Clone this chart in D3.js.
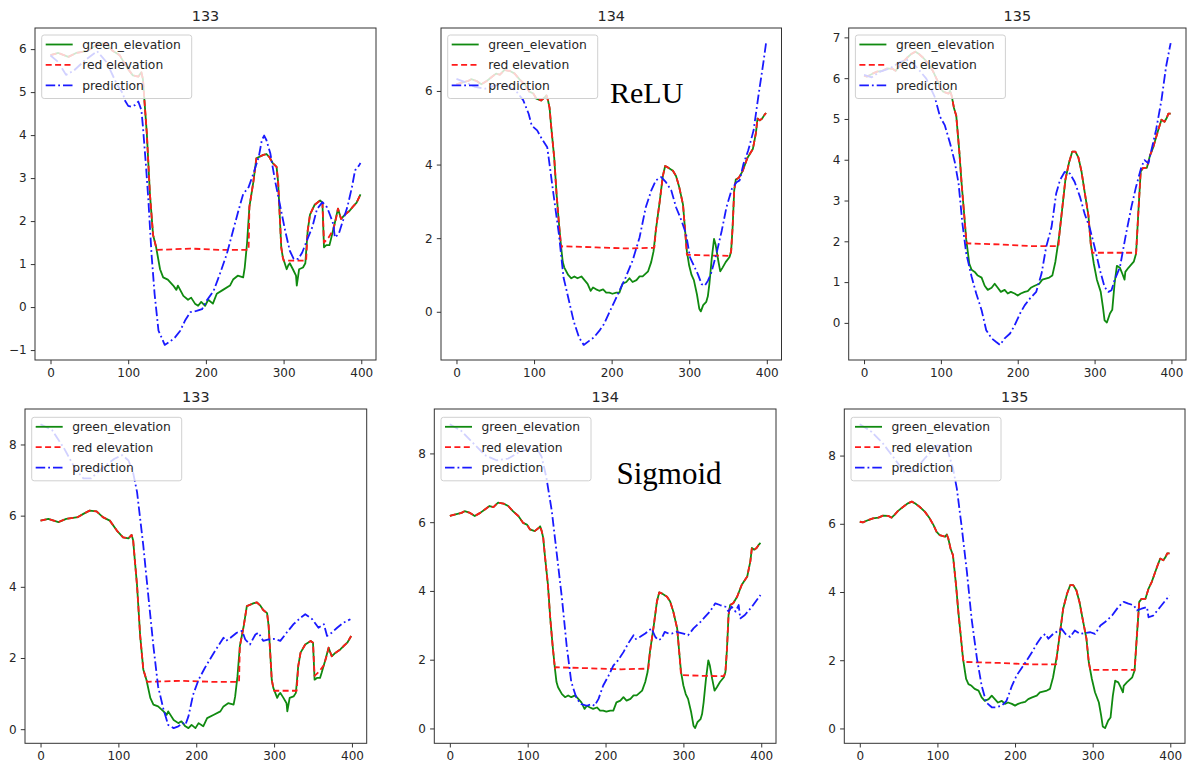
<!DOCTYPE html>
<html><head><meta charset="utf-8">
<script src="https://cdn.jsdelivr.net/npm/d3@7"></script>
<style>body{margin:0;background:#fff}svg{display:block}</style>
</head><body>
<svg id="c" width="1190" height="766"></svg>
<script>
// ---------------- data ----------------
const titles = ["133", "134", "135", "133", "134", "135"];
const legendLabels = ["green_elevation", "red elevation", "prediction"];
const annotations = ["ReLU", "Sigmoid"];
const xTicks = [0, 100, 200, 300, 400];
const yTicksRelu133 = [-1, 0, 1, 2, 3, 4, 5, 6];
const yTicksRelu134 = [0, 2, 4, 6];
const yTicksRelu135 = [0, 1, 2, 3, 4, 5, 6, 7];
const yTicksSig = [0, 2, 4, 6, 8];

const green133 = [[0,5.86],[10,5.91],[23,5.82],[33,5.91],[48,5.96],[55,6.05],[63,6.14],[72,6.12],[80,5.96],[89,5.86],[98,5.58],[106,5.39],[113,5.36],[117,5.46],[119,5.30],[121,4.78],[124,4.03],[128,2.62],[132,1.68],[136,1.39],[141,0.88],[145,0.69],[151,0.64],[158,0.50],[162,0.40],[164,0.50],[171,0.26],[177,0.17],[181,0.22],[186,0.08],[190,0.03],[194,0.12],[199,0.03],[203,0.17],[209,0.08],[214,0.31],[222,0.40],[231,0.50],[235,0.64],[241,0.73],[248,0.69],[250,0.92],[253,1.49],[256,2.33],[261,2.90],[265,3.46],[274,3.54],[278,3.56],[282,3.48],[286,3.35],[291,3.26],[293,2.90],[295,2.15],[297,1.39],[299,1.16],[304,0.88],[306,0.97],[308,1.02],[312,0.88],[316,0.73],[317,0.50],[320,0.88],[325,0.92],[328,1.02],[331,1.77],[334,2.15],[340,2.38],[347,2.48],[350,2.43],[352,1.39],[355,1.44],[359,1.44],[361,1.58],[366,1.96],[370,2.29],[374,2.05],[379,2.15],[385,2.24],[389,2.33],[394,2.43],[399,2.62]];
const redFlat133 = [[[137,1.33],[180,1.36],[220,1.33],[255,1.33]], [[300,1.08],[329,1.08]], [[352,1.50],[358,1.62],[364,1.80],[368,2.10]]];

const green134 = [[0,6.18],[6,6.22],[15,6.27],[19,6.32],[26,6.27],[32,6.18],[39,6.27],[45,6.37],[51,6.47],[56,6.44],[62,6.57],[69,6.54],[75,6.47],[81,6.32],[88,6.18],[94,5.98],[99,5.93],[103,5.79],[109,5.74],[114,5.83],[116,5.88],[118,5.74],[120,5.54],[122,5.05],[126,4.18],[129,3.20],[132,2.42],[135,1.74],[137,1.35],[139,1.20],[144,1.00],[148,0.91],[152,0.96],[156,0.91],[161,0.96],[165,0.86],[169,0.76],[173,0.57],[176,0.66],[180,0.61],[184,0.57],[189,0.61],[193,0.52],[197,0.52],[201,0.49],[206,0.52],[210,0.52],[214,0.76],[219,0.81],[223,0.91],[227,0.81],[232,0.86],[236,0.96],[240,0.96],[247,1.10],[251,1.35],[254,1.64],[257,2.22],[262,3.00],[266,3.69],[269,3.96],[272,3.93],[279,3.83],[283,3.69],[287,3.40],[292,2.91],[295,2.13],[297,1.64],[300,1.25],[303,1.00],[306,0.86],[310,0.47],[313,0.08],[315,0.01],[318,0.18],[322,0.27],[324,0.42],[326,0.76],[329,1.44],[332,1.98],[334,1.83],[337,1.44],[340,1.10],[343,1.20],[347,1.35],[352,1.49],[354,1.64],[356,2.32],[358,3.30],[360,3.59],[364,3.64],[369,3.83],[375,4.18],[382,4.42],[386,4.86],[388,5.25],[391,5.20],[394,5.25],[397,5.35],[399,5.40]];
const redFlat134 = [[[136,1.78],[180,1.75],[220,1.72],[255,1.74]], [[297,1.55],[325,1.53],[352,1.52]]];

const green135 = [[0,6.06],[4,6.04],[11,6.11],[17,6.16],[24,6.18],[30,6.24],[37,6.23],[41,6.18],[45,6.27],[49,6.37],[56,6.50],[62,6.60],[67,6.65],[71,6.60],[77,6.50],[84,6.35],[90,6.16],[95,5.96],[99,5.76],[103,5.67],[110,5.62],[112,5.69],[114,5.57],[117,5.27],[120,5.08],[124,4.20],[127,3.41],[130,2.73],[133,2.04],[137,1.45],[140,1.30],[144,1.25],[148,1.16],[153,1.11],[157,0.91],[161,0.81],[166,0.86],[170,0.96],[174,0.86],[178,0.76],[183,0.81],[187,0.72],[191,0.76],[196,0.72],[200,0.67],[204,0.72],[209,0.76],[213,0.78],[217,0.86],[222,0.91],[228,0.96],[232,1.06],[241,1.11],[245,1.16],[249,1.50],[254,2.14],[258,2.82],[262,3.51],[267,3.95],[271,4.20],[275,4.20],[279,4.05],[283,3.71],[287,3.22],[292,2.63],[295,1.94],[299,1.45],[303,1.06],[308,0.76],[311,0.37],[313,0.06],[316,0.01],[320,0.23],[323,0.32],[326,0.96],[329,1.40],[333,1.35],[336,1.21],[339,1.06],[340,1.25],[344,1.35],[351,1.50],[354,1.70],[357,2.73],[360,3.71],[363,3.80],[368,3.80],[372,4.10],[376,4.29],[383,4.74],[387,4.98],[391,4.93],[394,5.03],[396,5.13],[399,5.13]];
const redFlat135 = [[[134,1.95],[180,1.92],[220,1.88],[253,1.88]], [[297,1.72],[352,1.72]]];

const predRelu133 = [[0,5.85],[10,5.7],[20,5.4],[30,5.5],[45,5.75],[60,5.95],[72,5.7],[85,5.2],[93,4.97],[96,4.80],[100,4.68],[104,4.66],[109,4.70],[113,4.78],[117,4.58],[119,4.19],[123,3.26],[126,2.48],[130,1.24],[134,0.30],[139,-0.55],[143,-0.71],[147,-0.88],[154,-0.80],[160,-0.71],[167,-0.55],[173,-0.32],[180,-0.12],[188,-0.09],[195,-0.05],[201,0.15],[210,0.38],[218,0.77],[227,1.24],[235,1.78],[242,2.25],[248,2.63],[255,2.79],[261,3.10],[268,3.49],[272,3.88],[275,3.99],[278,3.88],[283,3.57],[289,2.94],[296,2.32],[302,1.78],[308,1.31],[313,1.12],[319,1.12],[324,1.27],[330,1.55],[337,1.86],[343,2.28],[350,2.44],[356,2.32],[360,2.13],[364,1.93],[366,1.62],[371,1.70],[375,1.93],[382,2.32],[388,2.79],[392,3.18],[397,3.29],[399,3.35]];
const predRelu134 = [[0,6.33],[11,6.24],[24,6.11],[37,6.06],[50,6.15],[63,6.15],[76,6.02],[86,5.75],[93,5.38],[97,5.06],[104,4.93],[110,4.70],[117,4.47],[121,3.84],[125,3.20],[132,2.11],[138,0.93],[145,0.30],[151,-0.25],[158,-0.70],[164,-0.90],[171,-0.79],[177,-0.70],[184,-0.52],[190,-0.34],[197,-0.02],[203,0.25],[210,0.57],[218,0.93],[227,1.39],[236,2.02],[244,2.84],[251,3.29],[257,3.57],[264,3.66],[270,3.52],[277,3.29],[283,2.84],[290,2.48],[296,2.11],[301,1.48],[307,1.21],[311,1.03],[316,0.75],[320,0.71],[324,0.84],[328,1.03],[335,1.57],[342,2.21],[348,2.84],[355,3.34],[361,3.52],[365,3.57],[370,4.02],[376,4.38],[383,4.93],[389,5.84],[396,6.83],[399,7.30]];
const predRelu135 = [[0,6.08],[10,6.02],[21,6.16],[34,6.24],[47,6.40],[58,6.45],[68,6.28],[81,5.99],[92,5.54],[99,5.05],[105,4.85],[112,4.40],[118,3.95],[123,3.42],[128,2.44],[133,1.70],[140,1.13],[146,0.72],[153,0.31],[159,-0.18],[166,-0.38],[172,-0.47],[177,-0.54],[183,-0.38],[190,-0.26],[196,-0.06],[203,0.23],[209,0.43],[216,0.60],[224,0.76],[231,1.21],[237,1.86],[244,2.35],[250,3.17],[255,3.50],[261,3.70],[268,3.66],[274,3.46],[281,3.09],[287,2.68],[294,2.31],[300,1.86],[307,1.29],[313,0.88],[318,0.76],[322,0.80],[326,1.05],[333,1.37],[337,1.78],[341,2.19],[348,2.85],[354,3.34],[361,3.83],[365,3.99],[370,3.91],[374,4.24],[380,4.73],[387,5.46],[393,6.28],[398,6.77],[399,6.86]];

const predSig133 = [[0,8.57],[15,8.4],[30,7.9],[45,7.3],[55,7.05],[65,7.05],[80,7.35],[95,7.6],[105,7.7],[113,7.55],[119,7.2],[124,6.66],[132,5.16],[138,3.84],[145,2.33],[151,1.20],[158,0.55],[164,0.12],[171,0.03],[177,0.08],[183,0.17],[186,0.12],[190,0.36],[196,0.97],[203,1.39],[211,1.72],[220,2.05],[228,2.33],[235,2.57],[238,2.48],[244,2.57],[252,2.71],[259,2.76],[263,2.52],[269,2.38],[276,2.66],[280,2.71],[286,2.48],[293,2.52],[301,2.54],[308,2.48],[316,2.71],[325,2.95],[334,3.13],[340,3.23],[349,3.09],[357,2.85],[364,2.95],[368,2.62],[374,2.71],[381,2.85],[389,2.99],[398,3.09]];
const predSig134 = [[0,8.85],[15,8.65],[30,8.3],[45,7.95],[60,7.8],[75,7.85],[90,8.05],[105,8.15],[113,8.1],[118,7.9],[124,7.3],[131,6.32],[137,5.15],[144,3.79],[150,2.42],[156,1.35],[163,0.86],[169,0.71],[176,0.66],[182,0.71],[186,0.66],[191,0.86],[197,1.25],[204,1.54],[210,1.83],[216,1.98],[223,2.22],[229,2.47],[236,2.71],[239,2.60],[244,2.66],[251,2.76],[259,2.91],[264,2.66],[268,2.57],[272,2.61],[276,2.81],[281,2.76],[285,2.76],[291,2.81],[300,2.76],[306,2.71],[313,2.91],[322,3.10],[328,3.25],[334,3.40],[341,3.64],[347,3.59],[354,3.54],[358,3.40],[362,3.54],[367,3.40],[371,3.59],[373,3.20],[379,3.30],[388,3.54],[399,3.88]];
const predSig135 = [[0,8.92],[15,8.7],[30,8.35],[45,7.9],[58,7.5],[70,7.55],[85,7.95],[100,8.3],[112,8.25],[120,7.63],[125,7.04],[131,5.96],[138,4.59],[144,3.22],[151,2.04],[157,1.25],[163,0.76],[170,0.62],[176,0.62],[183,0.67],[189,0.81],[196,1.25],[202,1.55],[209,1.79],[215,1.99],[222,2.24],[228,2.48],[234,2.68],[239,2.77],[243,2.63],[249,2.77],[256,2.87],[260,2.92],[265,2.77],[271,2.68],[277,2.87],[284,2.77],[290,2.80],[297,2.82],[303,2.77],[310,3.02],[316,3.12],[325,3.31],[333,3.56],[340,3.71],[346,3.66],[353,3.61],[357,3.46],[363,3.51],[370,3.56],[372,3.26],[378,3.31],[387,3.56],[399,3.90]];

// ---------------- layout ----------------
const frames = [
  [35, 28, 376, 360], [441, 28, 781.5, 360], [848.7, 28, 1186, 360],
  [25, 409, 366.7, 743.3], [434.3, 409, 776, 743.3], [844.3, 409, 1185, 743.3]
];
const panels = [
  {green: green133, red: redFlat133, pred: predRelu133, yTicks: yTicksRelu133},
  {green: green134, red: redFlat134, pred: predRelu134, yTicks: yTicksRelu134},
  {green: green135, red: redFlat135, pred: predRelu135, yTicks: yTicksRelu135},
  {green: green133, red: redFlat133, pred: predSig133, yTicks: yTicksSig},
  {green: green134, red: redFlat134, pred: predSig134, yTicks: yTicksSig},
  {green: green135, red: redFlat135, pred: predSig135, yTicks: yTicksSig}
];

function buildRed(green, segs) {
  const pts = green.filter(p => !segs.some(s => p[0] >= s[0][0] && p[0] <= s[s.length - 1][0]));
  segs.forEach(s => pts.push(...s));
  return pts.sort((a, b) => a[0] - b[0]);
}
function padded(ext) { const r = ext[1] - ext[0]; return [ext[0] - 0.05 * r, ext[1] + 0.05 * r]; }

const svg = d3.select("#c");
const FONT = "'DejaVu Sans', sans-serif";
const TXT = "#262626";
const colors = ["#108a10", "#ff1a1a", "#1a1aff"];
const dashes = [null, "6,3.4", "9.5,3,1.8,3"];
const LW = 1.8;

panels.forEach((p, i) => {
  const [L, T, R, B] = frames[i];
  const red = buildRed(p.green, p.red);
  const series = [p.green, red, p.pred];
  const all = series.flat();
  const x = d3.scaleLinear().domain(padded(d3.extent(all, d => d[0]))).range([L, R]);
  const y = d3.scaleLinear().domain(padded(d3.extent(all, d => d[1]))).range([B, T]);

  const g = svg.append("g");
  const clipId = "clip" + i;
  g.append("clipPath").attr("id", clipId).append("rect")
    .attr("x", L).attr("y", T).attr("width", R - L).attr("height", B - T);

  const line = d3.line().x(d => x(d[0])).y(d => y(d[1]));
  const lg = g.append("g").attr("clip-path", `url(#${clipId})`);
  series.forEach((s, k) => {
    lg.append("path").datum(s).attr("d", line)
      .attr("fill", "none").attr("stroke", colors[k]).attr("stroke-width", LW)
      .attr("stroke-linejoin", "round")
      .attr("stroke-dasharray", dashes[k]);
  });

  // axes
  const ax = g.append("g").attr("transform", `translate(0,${B})`)
    .call(d3.axisBottom(x).tickValues(xTicks).tickSize(4.2).tickPadding(4.2).tickFormat(d3.format("d")));
  const ay = g.append("g").attr("transform", `translate(${L},0)`)
    .call(d3.axisLeft(y).tickValues(p.yTicks).tickSize(4.2).tickPadding(4.2).tickFormat(d3.format("d")));
  [ax, ay].forEach(a => {
    a.select(".domain").remove();
    a.selectAll("line").attr("stroke", "#333").attr("stroke-width", 1);
    a.selectAll("text").attr("fill", TXT).style("font-family", FONT).style("font-size", "12px");
  });

  // frame
  g.append("rect").attr("x", L).attr("y", T).attr("width", R - L).attr("height", B - T)
    .attr("fill", "none").attr("stroke", "#333").attr("stroke-width", 1);

  // title
  g.append("text").attr("x", (L + R) / 2).attr("y", T - 7.2).attr("text-anchor", "middle")
    .attr("fill", TXT).style("font-family", FONT).style("font-size", "14.4px").text(titles[i]);

  // legend
  const legT = i < 3 ? T + 7 : T + 8.3;
  const leg = g.append("g").attr("transform", `translate(${L + 6.7},${legT})`);
  leg.append("rect").attr("width", 150).attr("height", 63.5).attr("rx", 2.5)
    .attr("fill", "#fff").attr("fill-opacity", 0.8).attr("stroke", "#d0d0d0").attr("stroke-width", 1);
  legendLabels.forEach((lab, k) => {
    const yy = 9.5 + k * 20.4;
    leg.append("line").attr("x1", 4).attr("x2", 31).attr("y1", yy).attr("y2", yy)
      .attr("stroke", colors[k]).attr("stroke-width", LW).attr("stroke-dasharray", dashes[k]);
    leg.append("text").attr("x", 40.5).attr("y", yy).attr("dy", "0.35em")
      .attr("fill", TXT).style("font-family", FONT).style("font-size", "12.3px").text(lab);
  });
});

// annotations
svg.append("text").attr("x", 610).attr("y", 103).attr("fill", "#000")
  .style("font-family", "'Liberation Serif', 'Times New Roman', serif").style("font-size", "30px").text(annotations[0]);
svg.append("text").attr("x", 616.5).attr("y", 483.5).attr("fill", "#000")
  .style("font-family", "'Liberation Serif', 'Times New Roman', serif").style("font-size", "31px").text(annotations[1]);
</script>
</body></html>
